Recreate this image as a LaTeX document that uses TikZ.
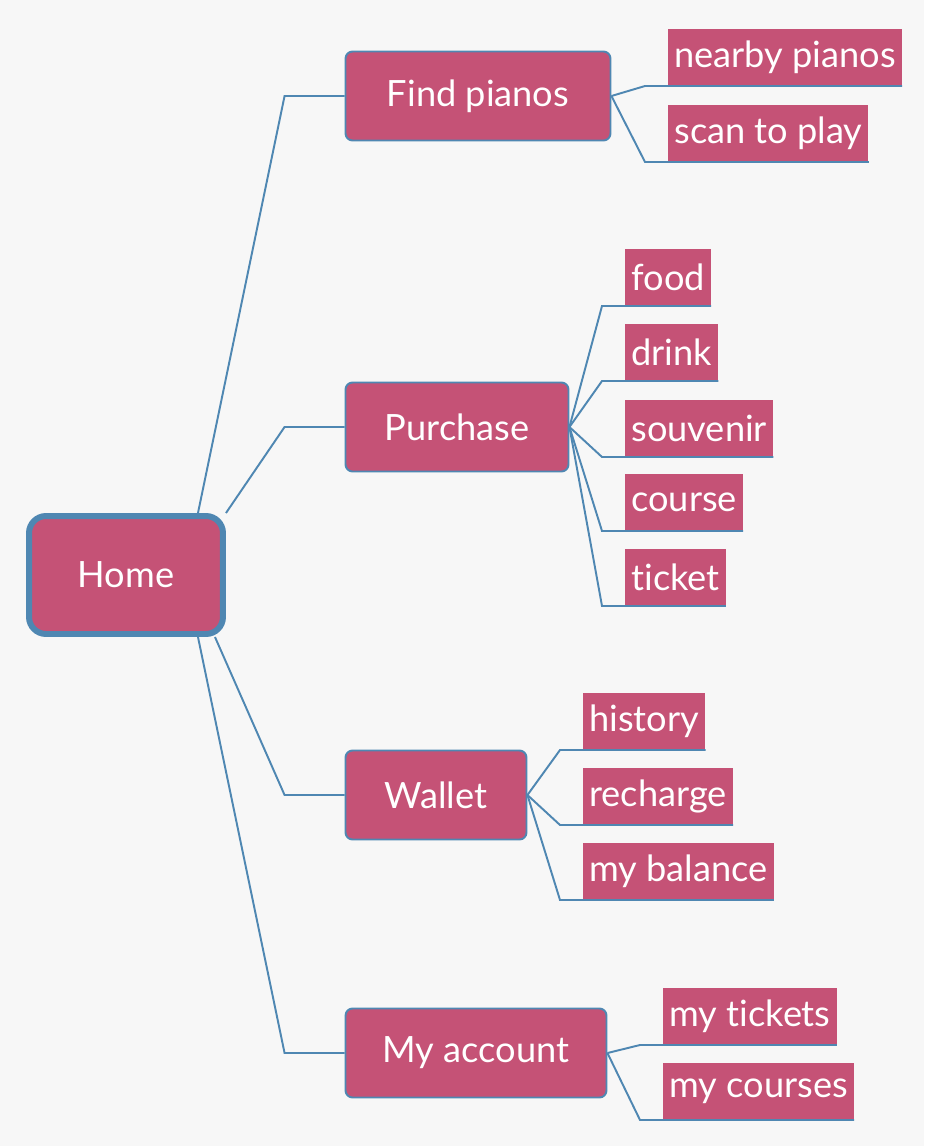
\documentclass[tikz,border=0pt]{standalone}
\usepackage{fontspec}
\setmainfont{Lato}[Ligatures=NoCommon]
\usepackage{tikz}
\usetikzlibrary{calc}

\definecolor{bgcol}{RGB}{247,247,247}
\definecolor{rosecol}{RGB}{197,82,118}
\definecolor{linecol}{RGB}{79,135,178}

\tikzset{
    homebox/.style={draw=linecol, line width=3.4pt, fill=rosecol, rounded corners=0.34cm,
        minimum width=3.88cm, minimum height=2.36cm, text=white, font=\fontsize{20.6}{24}\selectfont},
    menubox/.style={draw=linecol, line width=1.1pt, fill=rosecol, rounded corners=0.14cm,
        minimum height=1.78cm, text=white, font=\fontsize{20.6}{24}\selectfont},
    leafbox/.style={fill=rosecol, anchor=south west, minimum height=1.14cm, inner xsep=0.12cm,
        text=white, font=\fontsize{20.6}{24}\selectfont},
    link/.style={draw=linecol, line width=1.1pt},
}

\begin{document}
\begin{tikzpicture}[x=0.02cm, y=-0.02cm]
        \fill[bgcol] (0,0) rectangle (924,1146);

        \node[homebox] (home) at (126,575) {Home};

        % second level
        \node[menubox, minimum width=5.3cm] (find) at (478,96) {Find pianos};
        \node[menubox, minimum width=4.46cm] (purchase) at (457,427) {Purchase};
        \node[menubox, minimum width=3.62cm] (wallet) at (436,795) {Wallet};
        \node[menubox, minimum width=5.22cm] (account) at (476,1053) {My account};

        % leaves of find pianos
        \node[leafbox] (nearby) at (668,86) {nearby pianos};
        \node[leafbox] (scan) at (668,162) {scan to play};
        % leaves of purchase
        \node[leafbox] (food) at (625,306) {food};
        \node[leafbox] (drink) at (625,381) {drink};
        \node[leafbox] (souvenir) at (625,457) {souvenir};
        \node[leafbox] (course) at (625,531) {course};
        \node[leafbox] (ticket) at (625,606) {ticket};
        % leaves of wallet
        \node[leafbox] (history) at (583,750) {history};
        \node[leafbox] (recharge) at (583,825) {recharge};
        \node[leafbox] (balance) at (583,900) {my balance};
        % leaves of my account
        \node[leafbox] (tickets) at (663,1045) {my tickets};
        \node[leafbox] (courses) at (663,1120) {my courses};

        % home to menu
        \draw[link] ([xshift=-0.56cm]home.north east) -- ([xshift=-1.2cm]find.west) -- (find.west);
        \draw[link] (home.north east) -- ([xshift=-1.2cm]purchase.west) -- (purchase.west);
        \draw[link] ([xshift=-0.22cm]home.south east) -- ([xshift=-1.2cm]wallet.west) -- (wallet.west);
        \draw[link] ([xshift=-0.56cm]home.south east) -- ([xshift=-1.2cm]account.west) -- (account.west);

        % menu to leaves
        \foreach \from/\to in {find/nearby, find/scan,
                purchase/food, purchase/drink, purchase/souvenir, purchase/course, purchase/ticket,
                wallet/history, wallet/recharge, wallet/balance,
                account/tickets, account/courses}
            \draw[link] (\from.east) -- ([xshift=-0.46cm]\to.south west) -- (\to.south east);
    \end{tikzpicture}
\end{document}
